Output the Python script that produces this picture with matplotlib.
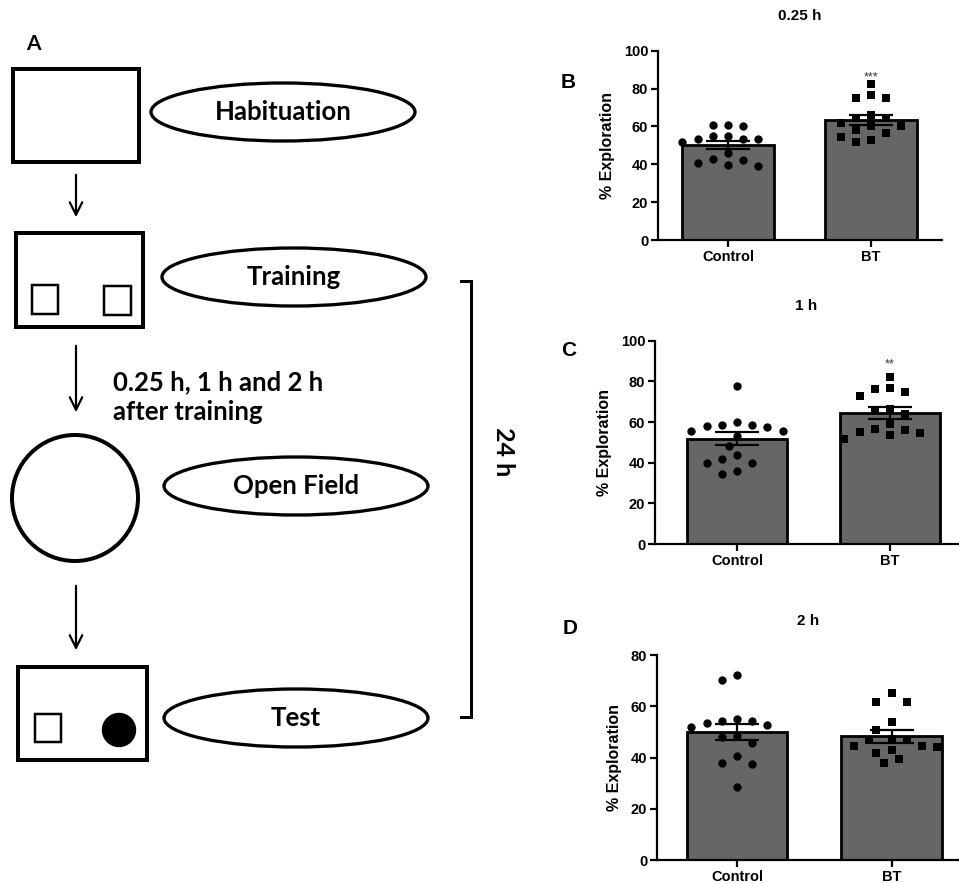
import numpy as np
import matplotlib
matplotlib.use("Agg")
import matplotlib.pyplot as plt
from matplotlib.patches import Rectangle, Ellipse, Circle

# ---- data ----
groups = ["Control", "BT"]

titles = ["0.25 h", "1 h", "2 h"]
panel_letters = ["B", "C", "D"]
y_max = [100, 100, 80]
stars = ["***", "**", ""]
star_y = [86, 88.5, 0]

# bar heights (mean) and SEM
means_b = [50.2, 63.6]
sems_b = [2.0, 2.6]
means_c = [51.8, 64.4]
sems_c = [3.3, 2.8]
means_d = [50.0, 48.4]
sems_d = [3.0, 2.5]

# individual animals
ctrl_b = [53.5, 53.5, 61, 55, 60, 55, 61, 52, 53.5, 39.4, 46, 40.5, 42.6, 39, 42]
bt_b = [82.4, 75, 75, 76.4, 66, 56.7, 52, 60, 64.4, 58, 53, 64.4, 60, 54.6, 62]
ctrl_c = [77.5, 58.4, 60, 55.4, 57.7, 58, 55.4, 58.4, 53, 48.2, 43.6, 42,
          39.7, 39.7, 34.4, 35.7]
bt_c = [82, 76.4, 72.8, 75, 76.7, 66.6, 64, 66, 56.4, 56, 55, 54.4, 51.8, 59, 53.4]
ctrl_d = [70.4, 72.4, 54.5, 52.9, 53.7, 54.5, 52.1, 55, 48.2, 48.5, 45.9,
          40.7, 38, 37.5, 28.7]
bt_d = [65.1, 61.8, 61.8, 54, 51, 44.3, 47.2, 46.9, 46.9, 44.6, 44.6, 41.7,
        43, 37.8, 39.3]

# protocol diagram labels
steps = ["Habituation", "Training", "Open Field", "Test"]
delay_text = "0.25 h, 1 h and 2 h\nafter training"
span_text = "24 h"

W, H = 959, 883
fig = plt.figure(figsize=(W / 100, H / 100), dpi=100)
px = 0.72  # points per pixel


def add_px_axes(left, top, right, bottom):
    return fig.add_axes([left / W, 1 - bottom / H, (right - left) / W, (bottom - top) / H])


# ---- left: protocol diagram drawn in pixel coords ----
dg = fig.add_axes([0, 0, 1, 1])
dg.set_xlim(0, W)
dg.set_ylim(H, 0)
dg.axis("off")
dfont = "Lato"

box_lw = 4 * px
dg.add_patch(Rectangle((13, 69), 126, 93, fill=False, lw=box_lw, ec="k"))
dg.add_patch(Rectangle((16, 233), 127, 94, fill=False, lw=box_lw, ec="k"))
dg.add_patch(Rectangle((32, 285), 26, 29, fill=False, lw=2.5 * px, ec="k"))
dg.add_patch(Rectangle((104, 286), 27, 29, fill=False, lw=2.5 * px, ec="k"))
dg.add_patch(Circle((75, 498), 63, fill=False, lw=box_lw, ec="k"))
dg.add_patch(Rectangle((18, 667), 129, 93, fill=False, lw=box_lw, ec="k"))
dg.add_patch(Rectangle((35, 714), 26, 28, fill=False, lw=2.5 * px, ec="k"))
dg.add_patch(Circle((119, 730), 16.5, fc="k", ec="k"))

ell_centres = [(283, 112), (294, 277), (296, 486), (296, 718)]
for (cx, cy), label in zip(ell_centres, steps):
    dg.add_patch(Ellipse((cx, cy), 264, 58, fill=False, lw=3.3 * px, ec="k"))
    dg.text(cx, cy, label, ha="center", va="center", fontsize=18.5,
            fontweight="bold", family=dfont)

for y0, y1 in [(172, 220), (343, 415), (583, 653)]:
    dg.annotate("", xy=(76, y1), xytext=(76, y0),
                arrowprops=dict(arrowstyle="->,head_length=0.9,head_width=0.45",
                                lw=2.2 * px, color="k"))

dg.text(113, 397, delay_text, ha="left", va="center", fontsize=18.5,
        fontweight="bold", family=dfont, linespacing=1.3)
dg.text(33, 44, "A", ha="center", va="center", fontsize=15,
        fontweight="bold", family=dfont)

# bracket for the 24 h interval
dg.plot([461, 471, 471, 461], [281, 281, 717, 717], color="k", lw=3 * px,
        solid_joinstyle="miter")
dg.text(503, 452, span_text, rotation=-90, ha="center", va="center",
        fontsize=18, fontweight="bold", family=dfont)

# ---- right: bar graphs ----
afont = "Liberation Sans"
panels = [
    dict(box=(658, 50.7, 942, 240), centres=(728, 871), means=means_b, sems=sems_b,
         pts=[ctrl_b, bt_b], letter_xy=(568, 82)),
    dict(box=(655, 340.7, 958, 544), centres=(737, 890), means=means_c, sems=sems_c,
         pts=[ctrl_c, bt_c], letter_xy=(569, 351)),
    dict(box=(657, 655.3, 959, 860), centres=(737, 891.5), means=means_d, sems=sems_d,
         pts=[ctrl_d, bt_d], letter_xy=(570, 628)),
]


def swarm(values, ax, step=7.6, rx=13.0, ry=10.5):
    # column scatter on a fixed grid, like the prism layout
    to_px = ax.transData
    order = np.argsort(values)[::-1]
    placed = []
    xs = np.zeros(len(values))
    y_scale = to_px.transform((0, 1))[1] - to_px.transform((0, 0))[1]
    for i in order:
        ypx = values[i] * y_scale
        for k in [0, -1, 1, -2, 2, -3, 3, -4, 4, -5, 5, -6, 6, -7, 7]:
            xpx = k * step
            if all(((xpx - a) / rx) ** 2 + ((ypx - b) / ry) ** 2 >= 1 for a, b in placed):
                break
        placed.append((xpx, ypx))
        xs[i] = xpx
    x_scale = to_px.transform((1, 0))[0] - to_px.transform((0, 0))[0]
    return xs / x_scale


for i, p in enumerate(panels):
    l, t, r, b = p["box"]
    ax = add_px_axes(l, t, r, b)
    c0, c1 = p["centres"]
    unit = c1 - c0
    ax.set_xlim(-(c0 - l) / unit, 1 + (r - c1) / unit)
    ax.set_ylim(0, y_max[i])
    xpos = np.arange(len(groups))

    ax.bar(xpos, p["means"], width=0.65, color="#666666", edgecolor="k",
           linewidth=2.8 * px, zorder=1)
    markers = ["o", "s"]
    sizes = [36, 30]
    for g in range(2):
        vals = np.array(p["pts"][g], dtype=float)
        off = swarm(vals, ax)
        ax.scatter(xpos[g] + off, vals, marker=markers[g], s=sizes[g],
                   color="k", linewidths=0, zorder=2)
    ax.errorbar(xpos, p["means"], yerr=p["sems"], fmt="none", ecolor="k",
                elinewidth=2.2 * px, capsize=16, capthick=2.2 * px, zorder=3)
    if stars[i]:
        ax.text(1, star_y[i], stars[i], ha="center", va="center",
                fontsize=9, color="#333333", family=afont)

    for s in ["top", "right"]:
        ax.spines[s].set_visible(False)
    for s in ["left", "bottom"]:
        ax.spines[s].set_linewidth(2.2 * px)
    ax.set_yticks(np.arange(0, y_max[i] + 1, 20))
    ax.set_xticks(xpos)
    ax.set_xticklabels(groups)
    ax.tick_params(width=2.2 * px, length=5, labelsize=10.5, pad=2)
    for lab in ax.get_xticklabels() + ax.get_yticklabels():
        lab.set_fontweight("bold")
        lab.set_family(afont)
    ax.set_ylabel("% Exploration", fontsize=11.5, fontweight="bold", family=afont,
                  labelpad=6)
    ax.set_title(titles[i], fontsize=11, fontweight="bold", family=afont, pad=22)
    ax.set_facecolor("none")

    lx, ly = p["letter_xy"]
    fig.text(lx / W, 1 - ly / H, panel_letters[i], ha="center", va="center",
             fontsize=15, fontweight="bold", family=afont)

fig.savefig("out.png", dpi=100)
